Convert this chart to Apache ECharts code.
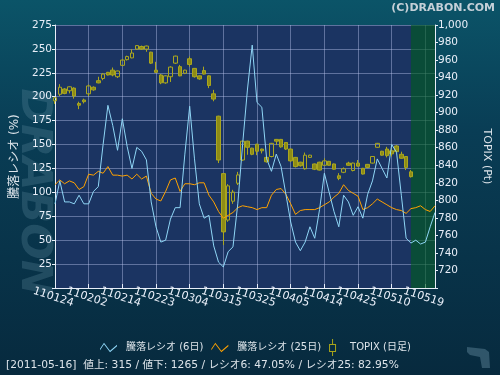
<!DOCTYPE html>
<html>
<head>
<meta charset="utf-8">
<script src="https://cdn.jsdelivr.net/npm/echarts@6/dist/echarts.min.js"></script>
<style>
  html, body { margin: 0; padding: 0; background: #07293d; }
  #chart { width: 500px; height: 375px; }
</style>
</head>
<body>
<div id="chart"></div>
<script>
let dates = [
  '110124', '110125', '110126', '110127', '110128', '110131',
  '110201', '110202', '110203', '110204', '110207', '110208', '110209', '110210', '110214', '110215',
  '110216', '110217', '110218', '110221', '110222', '110223', '110224', '110225', '110228',
  '110301', '110302', '110303', '110304', '110307', '110308', '110309', '110310', '110311', '110314',
  '110315', '110316', '110317', '110318', '110322', '110323', '110324', '110325', '110328', '110329',
  '110330', '110331',
  '110401', '110404', '110405', '110406', '110407', '110408', '110411', '110412', '110413', '110414',
  '110415', '110418', '110419', '110420', '110421', '110422', '110425', '110426', '110427', '110428',
  '110502', '110506', '110509', '110510', '110511', '110512', '110513', '110516', '110517', '110518',
  '110519', '110520', '110523'
]

// 騰落レシオ 6日
let ratio6 = [
  88, 112, 90, 90, 88, 97, 88, 88, 101, 106,
  150, 191, 170, 144, 177, 148, 125, 147, 143, 134,
  90, 64, 48, 50, 72, 84, 84, 140, 190, 135,
  88, 73, 76, 44, 27, 22, 38, 43, 88, 150,
  207, 254, 194, 189, 135, 122, 140, 127, 98, 69,
  48, 39, 48, 64, 52, 82, 120, 100, 80, 64,
  97, 90, 76, 85, 73, 98, 112, 135, 125, 115,
  150, 142, 97, 52, 47, 50, 46, 48, 64, 79
]

// 騰落レシオ 25日
let ratio25 = [
  108, 113, 109, 112, 110, 103, 106, 119, 118, 122,
  120, 127, 118, 118, 117, 118, 114, 119, 114, 117,
  99, 93, 91, 101, 113, 115, 101, 109, 109, 108,
  110, 110, 97, 90, 80, 73, 76, 79, 84, 86,
  85, 84, 82, 84, 84, 97, 103, 104, 98, 88,
  77, 81, 82, 82, 82, 84, 87, 90, 95, 99,
  108, 102, 99, 96, 82, 84, 88, 93, 90, 87,
  84, 82, 81, 78, 83, 84, 86, 82, 80, 86
]

// TOPIX [open, close, low, high]
let topix = [
  [913.5, 917, 910, 918], [921, 929, 919, 932.5], [927, 922, 921, 928], [925, 929.5, 922, 930],
  [928, 919, 916, 929], [910.5, 908.5, 904, 912.5], [914.5, 912.5, 910.5, 916], [921.5, 930.5, 919, 932],
  [929, 926, 925, 930], [936.5, 934, 933.5, 941], [939, 944, 937, 945], [946, 943, 942.5, 946.5],
  [948.5, 943, 941.5, 951.5], [941, 947.5, 939.5, 948], [954, 960, 953, 961], [960.5, 964, 959.5, 965],
  [962.5, 968, 962, 972.5], [972.5, 976.5, 971.5, 977], [975.5, 972.5, 971.5, 976.5], [972.5, 976, 969.5, 976.5],
  [969, 956.5, 955.5, 969.5], [948.5, 946, 945.5, 958], [943, 934, 932.5, 944], [934, 942, 933, 942.5],
  [941, 952, 935, 953], [956.5, 964.5, 955.5, 965], [952.5, 942, 941.5, 954.5], [945, 948.5, 944, 949],
  [961.5, 955, 952.5, 964], [950.5, 941, 940, 951], [942, 938.5, 937.5, 942.5], [948, 944, 943.5, 952.5],
  [942, 931, 928, 942.5], [921.5, 915.5, 913, 926], [896, 846, 842.5, 896.5], [830.5, 764, 749, 831],
  [777.5, 816.5, 775.5, 818.5], [799, 809.5, 796, 812], [819.5, 829, 817.5, 832.5], [846, 867.5, 845, 868],
  [867.5, 860.5, 852, 868], [859.5, 852.5, 851.5, 860], [864, 856, 851.5, 864.5], [858.5, 856.5, 853.5, 859],
  [849, 844, 843, 850], [850, 865, 849, 865.5], [869.5, 867.5, 863, 870], [869.5, 861, 860, 870],
  [866, 858.5, 857.5, 866.5], [858.5, 845, 844, 859], [849, 838.5, 837.5, 849.5], [843.5, 839.5, 838.5, 844],
  [836, 851.5, 835, 854.5], [849, 851.5, 848.5, 852], [841.5, 835.5, 834.5, 842], [843.5, 834.5, 834, 844],
  [840, 845, 839.5, 848], [844.5, 840, 839.5, 845], [841.5, 835.5, 835, 842], [828, 825, 823, 831],
  [832, 836, 831, 837.5], [842.5, 840, 839.5, 844], [834, 842.5, 833, 843], [842.5, 839, 838.5, 846],
  [836.5, 830, 829.5, 837], [841, 837.5, 836.5, 841.5], [842.5, 850, 842, 850.5], [860.5, 865, 860, 865.5],
  [856, 851.5, 851, 856.5], [858.5, 851, 849, 861], [856.5, 853, 850, 859.5], [862, 855.5, 855, 863],
  [852.5, 848, 847.5, 855.5], [850, 837.5, 834.5, 850.5], [832.5, 827, 826, 834.5]
]

let leftTicks = {min: 0, max: 275, interval: 25}
let rightTicks = {min: 700, max: 1000, interval: 20}
let labelStep = 7
let latestFrom = '110516'
let latestTo = '110523'

let infoDate = '2011-05-16'
let advances = 315
let declines = 1265
let lastRatio6 = '47.05'
let lastRatio25 = '82.95'

let font = "'DejaVu Sans', 'Noto Sans CJK JP', sans-serif"
let gridColor = 'rgba(190,200,240,0.42)'
let zigzag = 'path://M0,60 L40,0 L100,80 L170,20 L170,35 L100,95 L40,15 L0,75 Z'
let candleIcon = 'path://M0,50 L70,50 L70,130 L0,130 Z M10,60 L10,120 L60,120 L60,60 Z M30,0 L40,0 L40,50 L30,50 Z M30,130 L40,130 L40,170 L30,170 Z'

function onStep(i) {
  return i % labelStep === 0
}

let chart = echarts.init(document.getElementById('chart'))
let option = {
  animation: false,
  backgroundColor: {
    type: 'linear', x: 0, y: 0, x2: 0, y2: 1,
    colorStops: [
      {offset: 0, color: '#0b5468'},
      {offset: 0.35, color: '#093d55'},
      {offset: 1, color: '#072a3e'}
    ]
  },
  textStyle: {fontFamily: font},
  graphic: [
    {
      type: 'text', x: 33, y: 192, rotation: -Math.PI / 2, z: 0,
      style: {
        text: 'DRABON', fill: 'rgba(110,150,170,0.26)', font: 'italic bold 43px "DejaVu Sans"',
        textAlign: 'center', textVerticalAlign: 'middle'
      }
    },
    {
      type: 'polygon', z: 0,
      shape: {points: [[467, 347], [485, 349], [489, 352], [490, 368], [482, 368], [480, 357], [470, 355], [467, 352]]},
      style: {fill: 'rgba(110,150,170,0.4)'}
    },
    {
      type: 'text', right: 5, top: 3,
      style: {text: '(C)DRABON.COM', fill: '#c5d0d8', font: 'bold 11px "DejaVu Sans"'}
    },
    {
      type: 'text', left: 6, top: 360,
      style: {
        text: '[' + infoDate + ']  値上: ' + advances + ' / 値下: ' + declines +
          ' / レシオ6: ' + lastRatio6 + '% / レシオ25: ' + lastRatio25 + '%',
        fill: '#dde4ea', fontSize: 10.7, fontFamily: font
      }
    }
  ],
  legend: {
    left: 95,
    top: 334,
    itemWidth: 17,
    itemHeight: 17,
    itemGap: 8,
    textStyle: {color: '#dde4ea', fontSize: 10, fontFamily: font, padding: [0, 0, 0, 4]},
    data: [
      {name: '騰落レシオ (6日)', icon: zigzag, itemStyle: {color: '#8fd6f6', borderWidth: 0}},
      {name: '騰落レシオ (25日)', icon: zigzag, itemStyle: {color: '#ffa200', borderWidth: 0}},
      {name: 'TOPIX (日足)', icon: candleIcon, itemStyle: {color: '#a8a41a', borderWidth: 0}}
    ]
  },
  grid: {
    left: 55,
    right: 64,
    top: 25,
    bottom: 87,
    show: true,
    backgroundColor: '#1b3462',
    borderWidth: 0
  },
  xAxis: {
    type: 'category',
    data: dates,
    boundaryGap: false,
    axisLine: {lineStyle: {color: '#e8eef8', width: 1}},
    axisTick: {inside: true, length: 4, interval: onStep, lineStyle: {color: '#e8eef8'}},
    axisLabel: {
      interval: 0,
      formatter: function (v, i) { return onStep(i) ? v : '' },
      rotate: -18, align: 'center', verticalAlign: 'top', margin: 4,
      color: '#e8eef8', fontSize: 11, fontFamily: font
    },
    splitLine: {show: true, interval: onStep, lineStyle: {color: gridColor, width: 1}}
  },
  yAxis: [
    {
      type: 'value',
      min: leftTicks.min,
      max: leftTicks.max,
      interval: leftTicks.interval,
      name: '騰落レシオ (%)',
      nameLocation: 'middle',
      nameRotate: 90,
      nameGap: 30,
      nameTextStyle: {color: '#dde4ea', fontSize: 12, fontFamily: font},
      axisLine: {show: true, lineStyle: {color: '#e8eef8'}},
      axisTick: {show: true, length: 3, lineStyle: {color: '#e8eef8'}},
      axisLabel: {
        color: '#e8eef8', fontSize: 10.5, fontFamily: font, margin: 3,
        formatter: function (v) { return v === 0 ? '' : v }
      },
      splitLine: {show: true, lineStyle: {color: gridColor, width: 1}}
    },
    {
      type: 'value',
      position: 'right',
      min: rightTicks.min,
      max: rightTicks.max,
      interval: rightTicks.interval,
      name: 'TOPIX (Pt)',
      nameLocation: 'middle',
      nameRotate: -90,
      nameGap: 46,
      nameTextStyle: {color: '#dde4ea', fontSize: 11, fontFamily: font},
      axisLine: {show: true, lineStyle: {color: '#e8eef8'}},
      axisTick: {show: true, length: 3, lineStyle: {color: '#e8eef8'}},
      axisLabel: {
        color: '#e8eef8', fontSize: 10.5, fontFamily: font, margin: 3,
        formatter: function (v) { return v === 700 ? '' : v.toLocaleString('en-US') }
      },
      splitLine: {show: false}
    }
  ],
  series: [
    {
      name: 'latest',
      type: 'line',
      data: [],
      silent: true,
      markArea: {
        silent: true,
        itemStyle: {color: 'rgba(0,92,30,0.62)'},
        data: [[{xAxis: latestFrom}, {xAxis: latestTo}]]
      }
    },
    {
      name: 'TOPIX (日足)',
      type: 'candlestick',
      yAxisIndex: 1,
      barWidth: 4,
      itemStyle: {
        color: 'transparent',
        color0: '#8e8c16',
        borderColor: '#aaa61e',
        borderColor0: '#aaa61e',
        borderWidth: 1
      },
      data: topix
    },
    {
      name: '騰落レシオ (25日)',
      type: 'line',
      showSymbol: false,
      lineStyle: {color: '#ffa200', width: 1},
      itemStyle: {color: '#ffa200'},
      data: ratio25
    },
    {
      name: '騰落レシオ (6日)',
      type: 'line',
      showSymbol: false,
      lineStyle: {color: '#8fd6f6', width: 1},
      itemStyle: {color: '#8fd6f6'},
      data: ratio6
    }
  ]
}
chart.setOption(option)
</script>
</body>
</html>
